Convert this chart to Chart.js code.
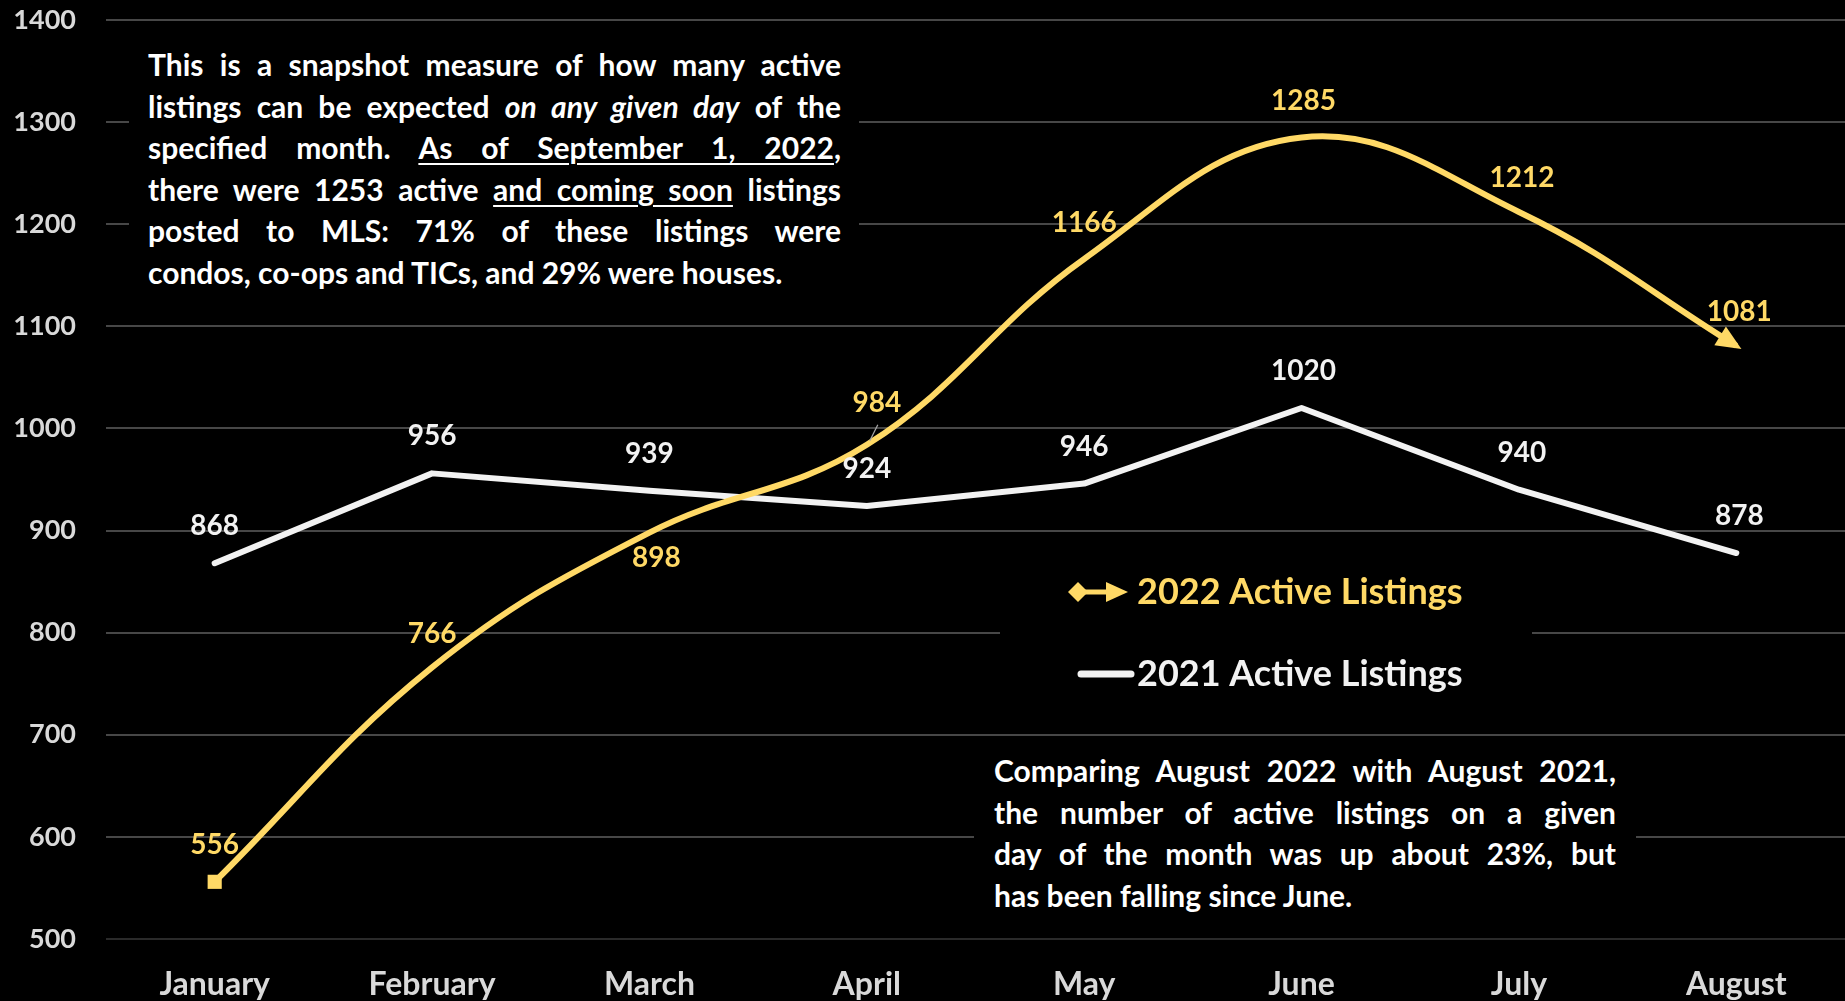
<!DOCTYPE html>
<html>
<head>
<meta charset="utf-8">
<script src="https://cdn.jsdelivr.net/npm/chart.js@4.4.1/dist/chart.umd.min.js"></script>
<style>
  html, body { margin: 0; padding: 0; background: #000; }
  #wrap { position: relative; width: 1845px; height: 1001px; overflow: hidden; }
  #chart { display: block; }
  .note {
    position: absolute; background: #000; color: #fff;
    font-family: Lato, sans-serif; font-weight: 700; font-size: 30px; line-height: 41.5px;
  }
  .note div { text-align: justify; text-align-last: justify; }
  .note div.last { text-align-last: left; }
  .note u { text-decoration-thickness: 2px; text-underline-offset: 4px; }
  #noteTop { left: 129px; top: 35px; width: 693px; padding: 9px 18px 12px 19px; }
  #noteBottom { left: 974px; top: 742px; width: 622px; padding: 8px 20px 10px 20px; }
</style>
</head>
<body>
<div id="wrap">
  <canvas id="chart" width="1845" height="1001"></canvas>

  <div class="note" id="noteTop">
    <div>This is a snapshot measure of how many active</div>
    <div>listings can be expected <i>on any given day</i> of the</div>
    <div>specified month. <u>As of September 1, 2022</u>,</div>
    <div>there were 1253 active <u>and coming soon</u> listings</div>
    <div>posted to MLS: 71% of these listings were</div>
    <div class="last">condos, co-ops and TICs, and 29% were houses.</div>
  </div>

  <div class="note" id="noteBottom">
    <div>Comparing August 2022 with August 2021,</div>
    <div>the number of active listings on a given</div>
    <div>day of the month was up about 23%, but</div>
    <div class="last">has been falling since June.</div>
  </div>
</div>

<script>
"use strict";

const months = ['January', 'February', 'March', 'April', 'May', 'June', 'July', 'August'];
const listings2022 = [556, 766, 898, 984, 1166, 1285, 1212, 1081];
const listings2021 = [868, 956, 939, 924, 946, 1020, 940, 878];
const seriesNames = ['2022 Active Listings', '2021 Active Listings'];

const yMin = 500, yMax = 1400, yStep = 100;

const GOLD = '#FFD966';
const WHITE = '#F2F2F2';

// label nudges [dx, dy] from each point, in px
const nudge2022 = [[0, -37], [0, -33], [7, 25], [10, -42], [0, -36], [2, -36], [3, -34], [3, -34]];
const nudge2021 = [[0, -37], [0, -37], [0, -37], [0, -37], [0, -37], [2, -37], [3, -37], [3, -37]];

Chart.defaults.font.family = 'Lato, sans-serif';
Chart.defaults.font.weight = 'bold';

// black panel holding the series key, painted over the grid
const seriesKey = {
  id: 'seriesKey',
  beforeDatasetsDraw(chart) {
    const ctx = chart.ctx;
    ctx.save();
    ctx.fillStyle = '#000';
    ctx.fillRect(1000, 548, 532, 174);

    // 2022: diamond, bar, arrow
    const y1 = 592;
    ctx.strokeStyle = GOLD;
    ctx.fillStyle = GOLD;
    ctx.lineWidth = 5;
    ctx.beginPath();
    ctx.moveTo(1080, y1);
    ctx.lineTo(1112, y1);
    ctx.stroke();
    ctx.beginPath();
    ctx.moveTo(1068, y1);
    ctx.lineTo(1078, y1 - 10);
    ctx.lineTo(1088, y1);
    ctx.lineTo(1078, y1 + 10);
    ctx.closePath();
    ctx.fill();
    ctx.beginPath();
    ctx.moveTo(1106, y1 - 10);
    ctx.lineTo(1128, y1);
    ctx.lineTo(1106, y1 + 10);
    ctx.closePath();
    ctx.fill();

    // 2021: plain rounded bar
    const y2 = 674;
    ctx.strokeStyle = WHITE;
    ctx.lineWidth = 7;
    ctx.lineCap = 'round';
    ctx.beginPath();
    ctx.moveTo(1081, y2);
    ctx.lineTo(1131, y2);
    ctx.stroke();

    ctx.font = 'bold 36px Lato, sans-serif';
    ctx.textBaseline = 'middle';
    ctx.textAlign = 'left';
    ctx.fillStyle = GOLD;
    ctx.fillText(seriesNames[0], 1137, y1);
    ctx.fillStyle = WHITE;
    ctx.fillText(seriesNames[1], 1137, y2);
    ctx.restore();
  }
};

// arrowhead on the last 2022 point, aimed along the curve
const endArrow = {
  id: 'endArrow',
  afterDatasetsDraw(chart) {
    const meta = chart.getDatasetMeta(0);
    const pt = meta.data[meta.data.length - 1];
    const prev = meta.data[meta.data.length - 2];
    const bx = pt.cp1x !== undefined ? pt.cp1x : prev.x;
    const by = pt.cp1y !== undefined ? pt.cp1y : prev.y;
    const ang = Math.atan2(pt.y - by, pt.x - bx);
    const ctx = chart.ctx;
    ctx.save();
    ctx.translate(pt.x, pt.y);
    ctx.rotate(ang);
    ctx.fillStyle = GOLD;
    ctx.beginPath();
    ctx.moveTo(6, 0);
    ctx.lineTo(-19, -11);
    ctx.lineTo(-19, 11);
    ctx.closePath();
    ctx.fill();
    ctx.restore();
  }
};

// value labels over the points
const valueLabels = {
  id: 'valueLabels',
  afterDatasetsDraw(chart) {
    const ctx = chart.ctx;
    ctx.save();
    ctx.font = 'bold 28px Lato, sans-serif';
    ctx.textAlign = 'center';
    ctx.textBaseline = 'middle';
    chart.data.datasets.forEach((ds, di) => {
      const meta = chart.getDatasetMeta(di);
      meta.data.forEach((pt, i) => {
        const [dx, dy] = ds.labelNudge[i];
        if (ds.leaderAt === i) {
          ctx.strokeStyle = '#a6a6a6';
          ctx.lineWidth = 1.2;
          ctx.beginPath();
          ctx.moveTo(pt.x + 11, pt.y - 20);
          ctx.lineTo(pt.x + 3, pt.y - 4);
          ctx.stroke();
        }
        ctx.fillStyle = ds.labelColor;
        ctx.fillText(String(ds.data[i]), pt.x + dx, pt.y + dy);
      });
    });
    ctx.restore();
  }
};

const ctx = document.getElementById('chart').getContext('2d');
new Chart(ctx, {
  type: 'line',
  data: {
    labels: months,
    datasets: [
      {
        label: seriesNames[0],
        data: listings2022,
        borderColor: GOLD,
        backgroundColor: GOLD,
        borderWidth: 6,
        tension: 0.4,
        pointStyle: 'rect',
        pointRadius: c => c.dataIndex === 0 ? 10 : 0,
        pointBorderWidth: 0,
        labelNudge: nudge2022,
        labelColor: GOLD,
        leaderAt: 3
      },
      {
        label: seriesNames[1],
        data: listings2021,
        borderColor: WHITE,
        backgroundColor: WHITE,
        borderWidth: 6,
        borderCapStyle: 'round',
        borderJoinStyle: 'round',
        tension: 0,
        pointRadius: 0,
        labelNudge: nudge2021,
        labelColor: WHITE
      }
    ]
  },
  options: {
    responsive: false,
    animation: false,
    layout: { autoPadding: false, padding: { top: 20, right: 0, left: 0, bottom: 0 } },
    plugins: {
      legend: { display: false },
      tooltip: { enabled: false }
    },
    scales: {
      x: {
        offset: true,
        grid: { display: false, drawTicks: false },
        border: { display: false },
        ticks: { color: '#D9D9D9', font: { size: 32, weight: 'bold' }, padding: 26, maxRotation: 0 },
        afterFit(scale) { scale.height = 62; }
      },
      y: {
        min: yMin,
        max: yMax,
        grid: {
          color: c => c.tick && c.tick.value === yMin ? '#2a2a2a' : '#474747',
          lineWidth: 2,
          drawTicks: true,
          tickLength: 30,
          tickColor: 'rgba(0,0,0,0)'
        },
        border: { display: false },
        ticks: {
          stepSize: yStep,
          color: '#D9D9D9',
          font: { size: 27, weight: 'bold' },
          padding: 0,
          callback: v => String(v)
        },
        afterFit(scale) { scale.width = 106; }
      }
    }
  },
  plugins: [seriesKey, endArrow, valueLabels]
});
</script>
</body>
</html>
